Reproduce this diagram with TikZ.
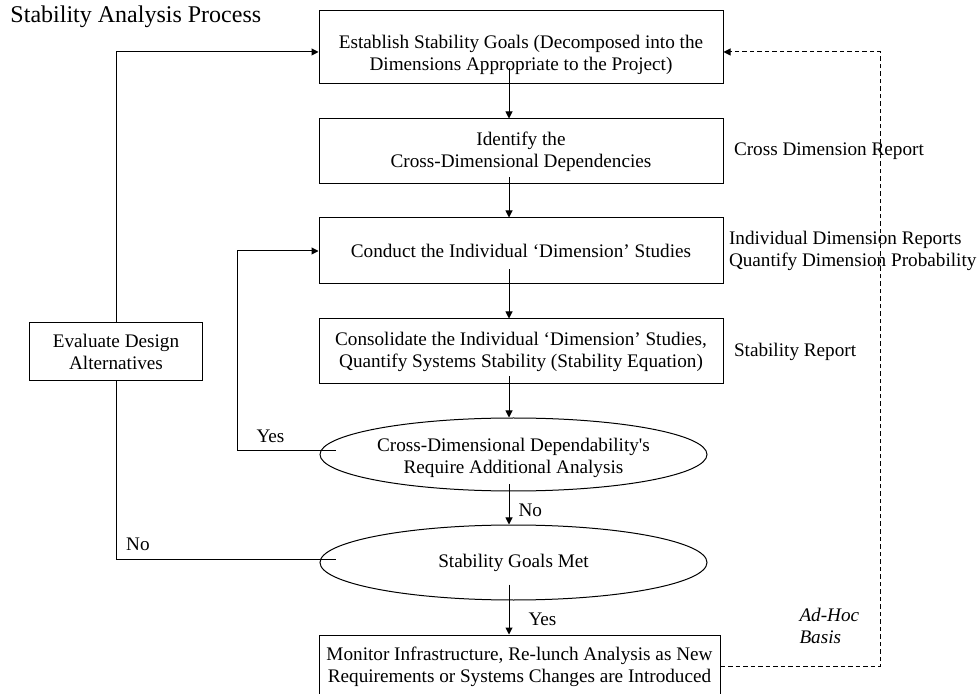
\documentclass[tikz,border=0pt]{standalone}
\usepackage{fontspec}
\setmainfont{Liberation Serif}
\usetikzlibrary{
  arrows.meta,
  positioning,
  shapes.geometric
}
\newcommand{\bodyfont}{\fontsize{9.6pt}{11pt}\selectfont}
\tikzset{
  task/.style={
    draw,
    rectangle,
    align=center,
    inner sep = 0pt,
    minimum width = 202pt,
    minimum height = 33pt
  },
  decision/.style={
    draw,
    ellipse,
    align=center,
    inner sep = 0pt,
    minimum width = 193.5pt,
    minimum height = 36.5pt
  },
  note/.style={
    align=left,
    inner sep = 0pt
  },
  feedback/.style={
    dash pattern=on 2.25pt off 1.5pt
  }
}

\begin{document}
\begin{tikzpicture}[x=0.5pt, y=-0.5pt, line width=0.5pt,
    >={Triangle[length=3.5pt,width=3.5pt]}, font=\bodyfont]
    \useasboundingbox (0,0) rectangle (979,694);

    \node[note, anchor=west, font=\fontsize{12pt}{14pt}\selectfont] (title) at (10,17) {Stability Analysis Process};

    \node[task, minimum height=36.5pt] (goals) at (521,47.5)
        {\rule{0pt}{14.5pt}Establish Stability Goals (Decomposed into the\\Dimensions Appropriate to the Project)};
    \node[task, minimum height=32.5pt, below=17pt of goals] (depend)
        {Identify the\\Cross-Dimensional Dependencies};
    \node[task, below=16.5pt of depend] (studies)
        {Conduct the Individual `Dimension' Studies};
    \node[task, minimum height=32.5pt, below=17pt of studies] (consol)
        {Consolidate the Individual `Dimension' Studies,\\Quantify Systems Stability (Stability Equation)};
    \node[decision, below=16.5pt of consol, xshift=-3.75pt] (crossq)
        {\rule{0pt}{10.5pt}Cross-Dimensional Dependability\textquotesingle s\\Require Additional Analysis};
    \node[decision, minimum height=37.5pt, below=16.5pt of crossq] (met)
        {Stability Goals Met};
    \node[task, minimum width=200.5pt, minimum height=31.5pt, below=17pt of met, xshift=3pt] (monitor)
        {Monitor Infrastructure, Re-lunch Analysis as New\\Requirements or Systems Changes are Introduced};

    \node[task, minimum width=86.5pt, minimum height=29pt] (evaluate) at (116,352)
        {Evaluate Design\\Alternatives};

    \node[note, right=5pt of depend] (crossrep) {Cross Dimension Report};
    \node[note, right=2.5pt of studies] (indrep) {Individual Dimension Reports\\Quantify Dimension Probability};
    \node[note, right=5pt of consol] (stabrep) {Stability Report};
    \node[note, anchor=west, font=\bodyfont\itshape] (adhoc) at (799,625.5) {Ad-Hoc\\Basis};

    \coordinate (spine) at (509,0);
    \coordinate (loop) at (237,0);
    \coordinate (adhocx) at (880,0);
    \coordinate (yesstart) at ([shift={(8pt,1.75pt)}]crossq.west);
    \coordinate (nostart) at ([shift={(8pt,1.75pt)}]met.west);

    \path[->]
    ([yshift=8pt]goals.south -| spine) edge (depend.north -| spine)
    ([yshift=3.5pt]depend.south -| spine) edge (studies.north -| spine)
    ([yshift=7.5pt]studies.south -| spine) edge (consol.north -| spine)
    ([yshift=4pt]consol.south -| spine) edge (crossq.north -| spine)
    ([yshift=3.5pt]crossq.south -| spine) edge node[note, pos=0.65, right=4.5pt] {No} (met.north -| spine)
    ([yshift=8pt]met.south -| spine) edge node[note, pos=0.7, right=9.5pt] {Yes} (monitor.north -| spine)
        ;

    \draw[->] (yesstart) -- node[note, pos=0.66, above=4pt] {Yes} (yesstart -| loop) |- (studies.west);
    \draw (nostart) -- node[note, pos=0.9, above=4pt] {No} (nostart -| evaluate) -- (evaluate.south);
    \draw[->] (evaluate.north) |- ([yshift=-2.25pt]goals.west);
    \draw[->, feedback] (monitor.east) -- (monitor.east -| adhocx) |- ([yshift=-2.25pt]goals.east);
\end{tikzpicture}
\end{document}
